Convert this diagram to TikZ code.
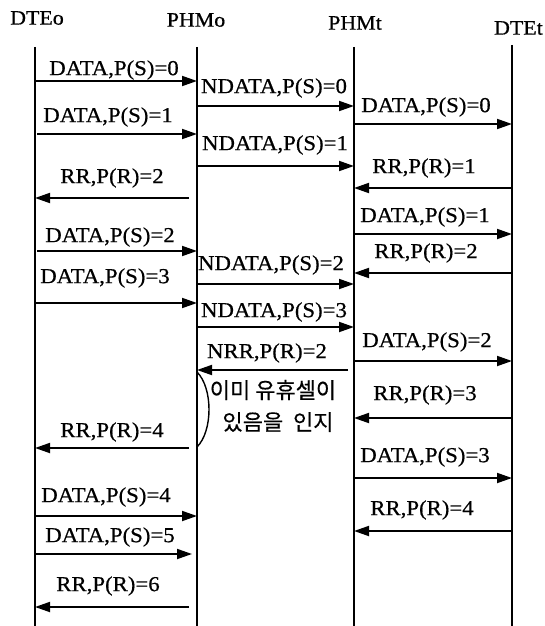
\documentclass[tikz,border=0pt]{standalone}
\usepackage{fontspec}
\setmainfont{Liberation Serif}[FakeStretch=1.07,FakeBold=0.6]
\newfontfamily\kor{Noto Sans CJK KR}[FakeBold=0.4]
\usetikzlibrary{arrows.meta}
\tikzset{
  life/.style={line width=1.8pt},
  msg/.style={line width=1.8pt, -{Triangle[length=15pt,width=10pt]}},
  lbl/.style={font=\fontsize{21.3}{24}\selectfont, inner sep=0pt},
  head/.style={font=\fontsize{20.5}{23}\selectfont, inner sep=0pt},
  kr/.style={font=\kor\fontsize{22}{26}\selectfont, inner sep=0pt},
  brk/.style={line width=1.4pt},
}
\newcommand\seqmsg[7]{%
  \coordinate (#1s) at (#2,#4);
  \coordinate (#1e) at (#3,#4);
  \draw[msg] (#1s) -- (#1e);
  \node[lbl] (#1l) at (#6,#7) {#5};
}
\begin{document}
\begin{tikzpicture}[x=1pt,y=-1pt]
\useasboundingbox (0,0) rectangle (544,626);
\fill[white] (0,0) rectangle (544,626);
% headers
\node[head] (hO) at (37,18) {DTEo};
\node[head] (hP) at (196,20) {PHMo};
\node[head] (hQ) at (355,23) {PHMt};
\node[head,anchor=east] (hT) at (543,28) {DTEt};
% lifelines
\coordinate (oT) at (35,47);  \coordinate (oB) at (35,626);
\coordinate (pT) at (197,47); \coordinate (pB) at (197,626);
\coordinate (qT) at (354,47); \coordinate (qB) at (354,626);
\coordinate (tT) at (512,45); \coordinate (tB) at (512,626);
\draw[life] (oT) -- (oB);
\draw[life] (pT) -- (pB);
\draw[life] (qT) -- (qB);
\draw[life] (tT) -- (tB);
% messages
\seqmsg{m1}{35}{197}{81}{DATA,P(S)=0}{114}{70}
\seqmsg{m2}{197}{354}{106}{NDATA,P(S)=0}{274}{88}
\seqmsg{m3}{37}{197}{134}{DATA,P(S)=1}{108}{117}
\seqmsg{m4}{354}{512}{124}{DATA,P(S)=0}{426}{107}
\seqmsg{m5}{197}{354}{166}{NDATA,P(S)=1}{275}{145}
\seqmsg{m6}{512}{354}{188}{RR,P(R)=1}{424}{168}
\seqmsg{m7}{189}{35}{198}{RR,P(R)=2}{112}{178}
\seqmsg{m8}{354}{512}{234}{DATA,P(S)=1}{425}{217}
\seqmsg{m9}{37}{197}{251}{DATA,P(S)=2}{110}{237}
\seqmsg{m10}{512}{354}{273}{RR,P(R)=2}{426}{253}
\seqmsg{m11}{197}{354}{284}{NDATA,P(S)=2}{271}{265}
\seqmsg{m12}{35}{197}{303}{DATA,P(S)=3}{105}{278}
\seqmsg{m13}{197}{354}{327}{NDATA,P(S)=3}{274}{312}
\seqmsg{m14}{354}{512}{361}{DATA,P(S)=2}{427}{342}
\seqmsg{m15}{348}{197}{370}{NRR,P(R)=2}{267}{353}
\seqmsg{m17}{512}{354}{418}{RR,P(R)=3}{425}{395}
\seqmsg{m18}{189}{35}{448}{RR,P(R)=4}{112}{432}
\seqmsg{m19}{354}{512}{478}{DATA,P(S)=3}{425}{457}
\seqmsg{m20}{35}{197}{516}{DATA,P(S)=4}{106}{497}
\seqmsg{m21}{512}{354}{531}{RR,P(R)=4}{422}{510}
\seqmsg{m22}{35}{192}{554}{DATA,P(S)=5}{110}{537}
\seqmsg{m23}{189}{35}{607}{RR,P(R)=6}{108}{586}
% note
\coordinate (brA) at (197,372);
\coordinate (brB) at (197,447);
\draw[brk] (brA) .. controls (213,388) and (213,431) .. (brB);
\node[kr] (k1) at (273,390) {이미 유휴셀이};
\node[kr] (k2) at (278,422) {있음을\ \ 인지};
\end{tikzpicture}
\end{document}
